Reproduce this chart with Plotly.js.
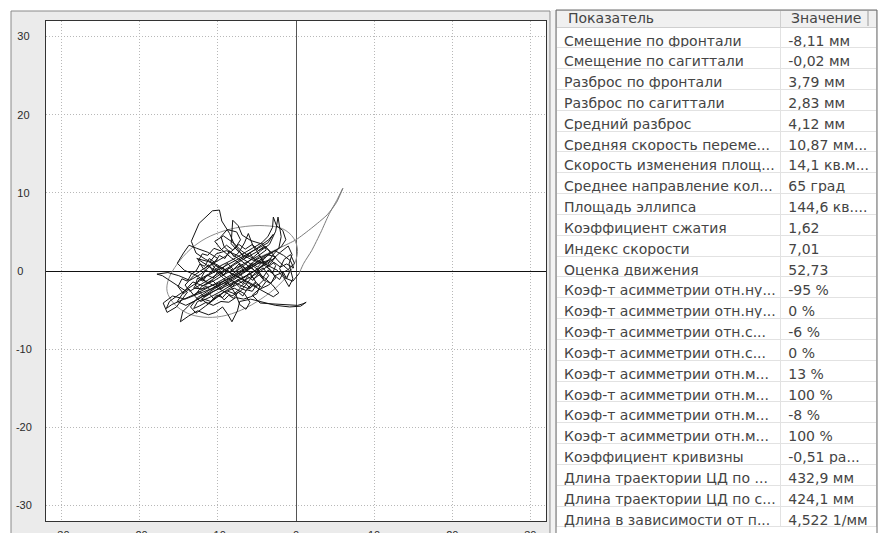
<!DOCTYPE html>
<html>
<head>
<meta charset="utf-8">
<script src="https://cdn.plot.ly/plotly-3.0.1.min.js"></script>
<style>
html,body{margin:0;padding:0;background:#fff;}
#chart{width:885px;height:533px;}
</style>
</head>
<body>
<div id="chart"></div>
<script>
// ---------- data ----------
const xTickVals = [-30, -20, -10, 0, 10, 20, 30];
const xTickLabels = ["-30", "-20", "-10", "0", "10", "20", "30"];
const yTickVals = [30, 20, 10, 0, -10, -20, -30];
const yTickLabels = ["30", "20", "10", "0", "-10", "-20", "-30"];

// confidence ellipse
const ellipse = [[0.2,2.5],[-0.3,4.2],[-1.7,5.4],[-4.0,5.8],[-6.5,5.7],[-9.0,5.2],[-11.5,4.2],[-13.5,2.8],[-15.2,0.9],[-16.3,-1.0],[-16.5,-2.6],[-15.6,-4.2],[-13.9,-5.4],[-11.9,-5.9],[-9.5,-5.8],[-7.0,-5.0],[-4.5,-3.6],[-2.2,-1.8],[-0.5,0.3],[0.2,2.5]];

// grey approach segment of the trajectory
const approach = [[-4.6,1.8],[-2.0,3.0],[0.0,4.0],[2.0,5.5],[4.0,7.2],[5.2,8.8],[6.0,10.6],[5.3,9.2],[4.2,7.2],[3.2,5.0],[2.0,2.6],[1.0,1.0],[0.4,-0.3]];

// centre-of-pressure trajectory (mm)
const trajectory = [
[0.4,-0.3],[-0.4,-1.3],[-1.4,-0.9],[-2.1,0.3],[-1.5,1.5],[-0.7,2.1],[-0.2,1.0],[-1.1,0.1],[-2.7,-0.6],[-3.7,0.5],[-3.1,1.9],[-2.2,2.9],[-1.9,4.4],[-2.3,6.9],[-2.6,5.1],[-3.4,3.4],[-4.5,2.6],[-5.6,1.6],[-6.9,0.5],[-8.3,-0.5],[-9.9,-1.4],[-11.4,-2.2],[-13.0,-3.0],[-14.5,-3.7],[-15.9,-4.3],[-16.6,-4.8],[-16.2,-3.9],[-15.1,-3.1],[-13.3,-1.9],[-11.5,-0.7],[-9.5,0.4],[-7.4,1.5],[-5.3,2.6],[-3.6,3.6],[-2.9,4.7],[-3.5,4.0],[-4.9,3.0],[-6.6,1.8],[-8.4,0.6],[-10.2,-0.5],[-12.0,-1.6],[-13.6,-2.6],[-14.2,-1.8],[-13.1,-0.6],[-11.8,0.3],[-10.4,1.1],[-9.0,1.9],[-7.8,2.9],[-7.1,4.0],[-7.6,5.0],[-8.8,5.3],[-9.6,4.4],[-9.2,3.1],[-8.1,2.1],[-6.6,1.0],[-5.1,0.0],[-4.0,-0.9],[-3.0,-1.8],[-2.2,-2.8],[-2.9,-3.3],[-4.2,-2.6],[-5.6,-1.8],[-7.1,-1.0],[-8.6,-0.1],[-10.1,0.8],[-11.6,1.5],[-12.8,2.3],[-13.4,3.8],[-12.4,6.1],[-10.7,7.7],[-9.8,7.8],[-9.5,6.4],[-8.5,4.8],[-7.9,3.4],[-7.0,2.2],[-5.8,1.5],[-4.4,1.0],[-3.3,0.2],[-2.6,-0.9],
[-3.5,-1.8],[-4.8,-2.4],[-5.6,-3.1],[-4.6,-4.1],[-3.2,-4.2],[-1.7,-4.3],[0.2,-4.4],[0.9,-4.2],[1.3,-4.0],[0.6,-4.5],[-0.8,-4.6],[-2.6,-4.4],[-4.2,-4.0],[-5.8,-3.6],[-7.2,-3.9],[-7.5,-5.1],[-8.2,-6.5],[-8.7,-5.6],[-9.4,-4.6],[-10.3,-5.3],[-11.2,-5.6],[-12.6,-5.1],[-13.8,-5.8],[-14.8,-6.5],[-14.5,-5.2],[-13.4,-4.1],[-12.0,-3.3],[-10.6,-2.6],[-9.1,-2.0],[-7.6,-1.2],[-6.0,-0.4],[-4.6,0.5],[-3.4,1.4],
[-5.0,0.9],[-6.8,-0.2],[-8.6,-1.3],[-10.4,-2.1],[-12.3,-2.9],[-14.2,-3.6],[-15.8,-3.2],[-17.0,-4.1],[-16.5,-5.3],[-15.3,-4.6],[-13.9,-2.7],[-15.5,-1.6],[-17.1,-0.6],[-17.8,-0.4],[-16.4,-0.2],[-15.0,-0.6],[-13.6,-1.2],[-12.2,-0.4],[-11.0,0.6],[-10.0,1.6],[-11.3,2.4],[-12.7,2.9],[-13.7,3.3],[-14.4,2.3],[-15.2,1.0],[-14.3,0.1],[-12.9,-0.5],[-11.4,-1.4],[-9.7,-2.3],[-8.2,-3.2],[-7.0,-2.5],[-6.1,-1.4],[-5.2,-0.2],[-4.1,0.9],
[-4.7,2.1],[-5.5,3.2],[-6.1,4.8],[-6.6,3.6],[-7.3,2.4],[-8.3,3.5],[-8.2,5.2],[-8.1,6.5],[-7.4,5.8],[-6.9,4.6],[-5.8,3.9],[-4.5,3.5],[-3.6,4.4],[-3.0,5.6],[-2.9,6.9],[-2.5,5.8],[-1.7,5.2],[-1.3,4.0],[-1.9,3.1],[-2.9,2.4],[-4.2,1.6],[-5.6,0.8],[-7.0,0.1],[-8.5,-0.8],[-9.9,-1.7],[-11.3,-2.5],[-12.6,-3.4],[-13.5,-4.6],[-12.8,-5.4],[-11.6,-4.5],[-10.4,-3.6],[-9.2,-2.7],[-7.9,-2.2],[-6.6,-2.9],[-5.9,-4.0],[-6.4,-4.9],[-7.2,-4.3],[-7.7,-3.0],[-8.4,-1.9],[-9.3,-0.9],[-10.4,0.1],[-11.6,0.9],[-12.7,1.6],
[-11.2,1.2],[-9.8,0.5],[-8.1,-0.3],[-6.5,-1.2],[-5.0,-2.0],[-4.1,-1.1],[-4.9,0.2],[-6.1,1.1],[-7.5,2.0],[-8.9,2.6],[-10.2,2.2],[-11.0,1.2],[-10.1,0.0],[-8.8,-0.9],[-7.4,-1.7],[-6.0,-2.3],[-5.1,-1.5],[-5.9,-0.2],[-7.0,0.8],[-8.3,1.7],[-9.6,2.8],[-10.4,3.8],[-9.3,4.5],[-8.0,3.6],[-7.0,2.6],[-6.0,1.9],[-4.8,1.3],[-3.6,0.7],[-2.4,0.1],[-1.6,-0.8],[-0.9,-2.0],[-0.4,-1.0],[-0.9,0.9],[-0.5,2.1],[-1.0,3.2],[-2.0,2.4],[-3.2,1.3],[-4.6,0.4],[-6.2,-0.6],[-7.8,-1.5],[-9.4,-2.5],[-10.9,-3.3],[-12.2,-3.9],[-13.0,-3.2],[-12.1,-2.0],[-10.7,-1.1],[-9.3,-0.1],[-7.9,0.8],[-6.4,1.7],[-5.1,2.4],[-4.0,3.2],[-3.3,2.4],[-4.1,1.5],[-5.4,0.6],[-6.8,-0.4],[-8.1,-1.2],[-9.4,-1.9],[-10.8,-2.8],[-12.1,-3.6],[-11.3,-4.2],[-10.0,-3.2],[-8.8,-2.4],[-7.3,-1.6],[-5.9,-0.8],[-4.6,-0.1],[-3.4,0.8],[-2.6,1.8],[-3.7,2.1],[-5.0,1.5],[-6.4,0.4],[-7.6,-0.5],[-9.0,-1.2],[-10.5,-1.8],[-11.9,-2.3],[-13.1,-2.2],[-12.4,-1.1],[-11.0,-0.3],[-9.6,0.7],[-8.2,1.4],[-6.9,2.1],[-5.6,2.9],[-4.4,3.6],[-3.8,2.7],[-4.9,1.9],[-6.2,1.2],[-7.7,0.3],[-9.1,-0.4],[-10.6,-1.3],[-11.9,-1.9],[-13.2,-1.4],[-14.3,-2.6],[-15.2,-3.9],[-14.1,-4.4],[-12.9,-3.8],[-11.6,-3.0],[-10.3,-2.2],[-9.0,-1.4],[-7.6,-0.6],[-6.3,0.3],[-5.0,1.1],[-3.9,2.0],[-2.7,2.6],[-1.6,2.0],[-0.7,1.3],[-0.3,0.4],
[-1.2,0.9],[-2.0,0.5],[-2.8,1.1],[-3.5,0.6],[-4.3,1.2],[-4.9,0.5],[-5.7,1.0],[-6.3,0.2],[-7.1,0.7],[-7.8,-0.1],[-8.6,0.4],[-9.2,-0.5],[-10.0,-0.1],[-10.6,-0.9],[-11.4,-0.5],[-11.9,-1.3],[-12.6,-0.9],[-12.9,-1.8],[-12.2,-2.4],[-11.5,-1.9],[-10.9,-2.5],[-10.1,-1.8],[-9.5,-2.3],[-8.8,-1.5],[-8.1,-2.0],[-7.5,-1.1],[-6.8,-1.6],[-6.2,-0.7],[-5.5,-1.2],[-4.8,-0.3],[-4.2,-0.8],[-3.6,0.1],[-3.0,-0.3],[-2.6,0.7],[-3.3,1.6],[-4.0,1.0],[-4.6,1.9],[-5.3,1.4],[-5.9,2.3],[-6.6,1.6],[-7.2,2.5],[-7.9,1.8],[-8.5,2.6],[-9.1,1.6],[-9.8,2.0],[-10.4,1.1],[-11.1,1.6],[-11.7,0.6],[-12.3,0.9],[-12.8,0.0],[-13.4,-0.4],[-13.9,-1.3],[-14.6,-1.0],[-15.1,-2.0],[-14.4,-2.9],[-13.7,-2.3],[-13.1,-3.1],[-12.4,-2.6],[-11.8,-3.3],[-11.1,-2.9],[-10.5,-3.6],[-9.8,-3.0],[-9.2,-3.7],[-8.6,-3.1],[-8.0,-3.5],[-7.4,-2.7],[-6.8,-3.2],[-6.3,-2.4],[-5.6,-2.6],[-5.0,-1.7],[-4.4,-2.1],[-3.8,-1.3],[-3.2,-1.6],[-2.7,-0.6],[-2.1,-1.1],[-1.6,-0.2],[-1.2,-1.0],[-0.8,0.0],
[-1.5,0.6],[-2.3,1.3],[-3.1,2.3],[-3.9,3.1],[-4.8,2.6],[-5.6,3.4],[-6.5,2.8],[-7.3,3.4],[-8.1,2.7],[-8.9,3.3],[-9.7,2.6],[-10.5,2.9],[-11.3,2.0],[-12.0,2.2],[-12.5,1.3],[-11.8,0.2],[-11.2,0.8],[-10.5,-0.2],[-9.9,0.3],[-9.3,-0.5],[-8.7,0.1],[-8.0,-0.7],[-7.4,-0.2],[-6.7,-0.9],[-6.0,-0.3],[-5.4,-1.0],[-4.7,-0.5],[-4.0,-1.3],[-3.5,-0.6],
[-4.2,0.4],[-5.1,-0.2],[-5.8,0.6],[-6.6,-0.1],[-7.3,0.9],[-8.0,0.2],[-8.8,1.0],[-9.5,0.2],[-10.3,0.7],[-10.9,-0.2],[-11.6,0.1],[-12.1,-0.8],[-11.4,-1.6],[-10.7,-1.2],[-10.0,-1.9],[-9.3,-1.3],[-8.6,-2.0],[-7.9,-1.4],[-7.2,-2.1],[-6.5,-1.5],[-5.9,-2.2],[-5.2,-1.4],[-4.6,-1.9],
[-5.0,-2.9],[-5.8,-3.3],[-6.7,-3.6],[-7.7,-3.4],[-8.6,-4.0],[-9.6,-3.9],[-10.6,-4.4],[-11.5,-4.0],[-12.4,-4.5],[-13.1,-4.8],[-12.6,-3.9],[-11.8,-3.6],[-10.9,-3.9],[-10.2,-3.1],[-9.4,-3.4],[-8.7,-2.6],[-7.9,-2.9],[-7.1,-2.2],[-6.4,-2.5],[-5.7,-1.7]
];

// table
const headerNames = ["Показатель", "Значение"];
const parameters = ["Смещение по фронтали","Смещение по сагиттали","Разброс по фронтали","Разброс по сагиттали","Средний разброс","Средняя скорость переме...","Скорость изменения площ...","Среднее направление кол...","Площадь эллипса","Коэффициент сжатия","Индекс скорости","Оценка движения","Коэф-т асимметрии отн.ну...","Коэф-т асимметрии отн.ну...","Коэф-т асимметрии отн.с...","Коэф-т асимметрии отн.с...","Коэф-т асимметрии отн.м...","Коэф-т асимметрии отн.м...","Коэф-т асимметрии отн.м...","Коэф-т асимметрии отн.м...","Коэффициент кривизны","Длина траектории ЦД по ...","Длина траектории ЦД по с...","Длина в зависимости от п..."];
const values = ["-8,11 мм","-0,02 мм","3,79 мм","2,83 мм","4,12 мм","10,87 мм...","14,1 кв.м...","65 град","144,6 кв....","1,62","7,01","52,73","-95 %","0 %","-6 %","0 %","13 %","100 %","-8 %","100 %","-0,51 ра...","432,9 мм","424,1 мм","4,522 1/мм"];

// ---------- drawing ----------
const W = 885, H = 533;
const px = v => v / W;
const py = v => 1 - v / H;
const noWrap = s => s.replace(/ /g, "\u00a0");

// emulate left-aligned tick labels of the original
function padLabel(s) {
  if (s.length === 1) return s + "\u2007\u2009";
  if (s[0] !== "-") return s + "\u2009";
  return s;
}

const tickFont = {family: "Liberation Sans, Arial, sans-serif", size: 11, color: "#2a2a2a"};
const tableFont = {family: "DejaVu Sans, sans-serif", size: 14, color: "#444444"};

const data = [
  {
    type: "scatter", mode: "lines",
    x: ellipse.map(p => p[0]), y: ellipse.map(p => p[1]),
    line: {color: "#8c8c8c", width: 1, shape: "spline", smoothing: 1},
    hoverinfo: "skip"
  },
  {
    type: "scatter", mode: "lines",
    x: approach.map(p => p[0]), y: approach.map(p => p[1]),
    line: {color: "#7a7a7a", width: 1, shape: "spline", smoothing: 0.6},
    hoverinfo: "skip"
  },
  {
    type: "scatter", mode: "lines",
    x: trajectory.map(p => p[0]), y: trajectory.map(p => p[1]),
    line: {color: "#141414", width: 1},
    hoverinfo: "skip"
  },
  {
    type: "table",
    domain: {x: [px(556), px(877)], y: [0, py(10)]},
    columnwidth: [225, 96],
    header: {
      values: ["", ""],
      align: "left",
      height: 17,
      fill: {color: "#f0f0f0"},
      line: {color: "#cfcfcf", width: 1},
      font: tableFont
    },
    cells: {
      values: [parameters.map(noWrap), values.map(noWrap)],
      align: "left",
      height: 20.83,
      fill: {color: "#ffffff"},
      line: {color: "#e2e2e2", width: 1},
      font: tableFont
    }
  }
];

const layout = {
  width: W, height: H,
  margin: {l: 0, r: 0, t: 0, b: 0, pad: 0},
  paper_bgcolor: "#ffffff",
  plot_bgcolor: "#ffffff",
  showlegend: false,
  xaxis: {
    domain: [px(46), px(546)],
    range: [-32, 32],
    tickvals: xTickVals, ticktext: xTickLabels,
    ticks: "", ticklabelstandoff: 4, ticklabeloverflow: "allow",
    tickfont: tickFont,
    showgrid: true, gridcolor: "#b8b8b8", gridwidth: 1, griddash: "1px,2px",
    zeroline: true, zerolinecolor: "#555555", zerolinewidth: 1,
    showline: true, linecolor: "#333333", linewidth: 1, mirror: true,
    fixedrange: true, automargin: false
  },
  yaxis: {
    domain: [py(521), py(21)],
    range: [-32, 32],
    tickvals: yTickVals, ticktext: yTickLabels.map(padLabel),
    ticks: "", ticklabelstandoff: 11, ticklabeloverflow: "allow",
    tickfont: tickFont,
    showgrid: true, gridcolor: "#b8b8b8", gridwidth: 1, griddash: "1px,2px",
    zeroline: true, zerolinecolor: "#111111", zerolinewidth: 1,
    showline: true, linecolor: "#333333", linewidth: 1, mirror: true,
    fixedrange: true, automargin: false
  },
  annotations: [
    {xref: "paper", yref: "paper", x: px(566), y: py(18.5), xanchor: "left", yanchor: "middle",
     text: headerNames[0], showarrow: false, font: {family: tableFont.family, size: 14, color: "#444444"}},
    {xref: "paper", yref: "paper", x: px(789), y: py(18.5), xanchor: "left", yanchor: "middle",
     text: headerNames[1], showarrow: false, font: {family: tableFont.family, size: 14, color: "#444444"}}
  ],
  shapes: [
    {type: "rect", xref: "paper", yref: "paper", layer: "below",
     x0: px(11), x1: px(550), y0: -0.02, y1: py(11),
     fillcolor: "#ebebeb", line: {color: "#8a8a8a", width: 1}},
    {type: "rect", xref: "paper", yref: "paper", layer: "below",
     x0: px(46), x1: px(546), y0: py(521), y1: py(21),
     fillcolor: "#ffffff", line: {width: 0}},
    {type: "rect", xref: "paper", yref: "paper", layer: "below",
     x0: px(551), x1: px(556), y0: -0.02, y1: py(10),
     fillcolor: "#f3f3f3", line: {width: 0}},
    {type: "rect", xref: "paper", yref: "paper", layer: "above",
     x0: px(556), x1: px(877), y0: -0.02, y1: py(10),
     fillcolor: "rgba(0,0,0,0)", line: {color: "#6a6a6a", width: 1}},
    {type: "line", xref: "paper", yref: "paper", layer: "above",
     x0: px(868), x1: px(868), y0: py(11), y1: py(26),
     line: {color: "#9a9a9a", width: 1}}
  ]
};

Plotly.newPlot("chart", data, layout, {displayModeBar: false, staticPlot: true});
</script>
</body>
</html>
